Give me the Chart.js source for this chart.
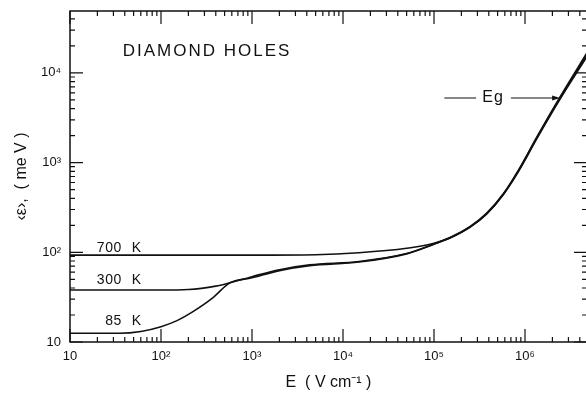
<!DOCTYPE html>
<html>
<head>
<meta charset="utf-8">
<script src="https://cdn.jsdelivr.net/npm/chart.js@4.4.1/dist/chart.umd.min.js"></script>
<style>
  html, body { margin: 0; padding: 0; background: #fff; overflow: hidden; }
  #wrap { width: 588px; height: 395px; }
</style>
</head>
<body>
<div id="wrap"><canvas id="chart"></canvas></div>
<script>
// field E (V/cm) and mean energy <eps> (meV)
const field700 = [10, 1e3, 5e3, 1.5e4, 5e4, 1e5, 1.5e5, 2.5e5, 3.8e5, 5.8e5, 8.5e5, 1.35e6, 2.4e6, 4.8e6];
const energy700 = [93, 93, 94, 99, 111, 126, 146, 194, 273, 452, 830, 1930, 5300, 16800];

const field300 = [10, 100, 200, 400, 560, 1000, 2000, 4300, 1.5e4, 5e4, 1e5, 1.5e5, 2.5e5, 3.8e5, 5.8e5, 8.5e5, 1.35e6, 2.4e6, 4.8e6];
const energy300 = [38, 38, 38.5, 42, 45.5, 53.5, 64, 72.5, 79, 97, 124, 145, 192, 270, 447, 815, 1890, 5150, 16000];

const field85 = [10, 35, 60, 100, 150, 220, 370, 560, 1000, 2000, 4300, 1.5e4, 5e4, 1e5, 1.5e5, 2.5e5, 3.8e5, 5.8e5, 8.5e5, 1.35e6, 2.4e6, 4.8e6];
const energy85 = [12.5, 12.5, 13.1, 14.8, 17.3, 21.5, 31, 45, 52, 62.5, 71, 78, 96, 123, 144, 191, 268, 442, 800, 1850, 5000, 15200];

const xTicks = [10, 1e2, 1e3, 1e4, 1e5, 1e6];
const yTicks = [10, 1e2, 1e3, 1e4];
const tempLabels = [['700', 112], ['300', 48.5], ['85', 17.1]];

const sup = { '1': '\u00b9', '2': '\u00b2', '3': '\u00b3', '4': '\u2074', '5': '\u2075', '6': '\u2076' };
function decadeLabel(v) {
  const k = Math.round(Math.log10(v));
  return k === 1 ? '10' : '10' + sup[k];
}

const pts = (xs, ys) => xs.map((x, i) => ({ x, y: ys[i] }));
const line = (data) => ({
  data, borderColor: '#111', borderWidth: 1.6, pointRadius: 0,
  showLine: true, fill: false, cubicInterpolationMode: 'monotone'
});

const INK = '#111';
const FONT = '"Liberation Sans", Arial, sans-serif';

const decor = {
  id: 'decor',
  afterDraw(chart) {
    const { ctx, chartArea: a, scales: { x, y } } = chart;
    ctx.save();
    ctx.strokeStyle = INK;
    ctx.lineWidth = 1.5;
    ctx.strokeRect(a.left, a.top, a.right - a.left, a.bottom - a.top);

    // inward ticks on all four sides
    ctx.lineWidth = 1.2;
    ctx.beginPath();
    for (let k = 1; k <= 6; k++) {
      for (let m = 1; m <= 9; m++) {
        const v = m * Math.pow(10, k);
        const len = m === 1 ? 13 : 5;
        if (v >= x.min && v <= x.max) {
          const px = x.getPixelForValue(v);
          ctx.moveTo(px, a.bottom); ctx.lineTo(px, a.bottom - len);
          ctx.moveTo(px, a.top); ctx.lineTo(px, a.top + len);
        }
        if (v >= y.min && v <= y.max) {
          const py = y.getPixelForValue(v);
          ctx.moveTo(a.left, py); ctx.lineTo(a.left + len, py);
          ctx.moveTo(a.right, py); ctx.lineTo(a.right - len, py);
        }
      }
    }
    ctx.stroke();

    ctx.fillStyle = INK;
    ctx.textBaseline = 'middle';

    // title inside the plot
    ctx.font = '17px ' + FONT;
    ctx.letterSpacing = '2px';
    ctx.textAlign = 'left';
    ctx.fillText('DIAMOND HOLES', x.getPixelForValue(38), y.getPixelForValue(17500));

    // temperature labels
    ctx.font = '14px ' + FONT;
    ctx.letterSpacing = '0.5px';
    const numRight = x.getPixelForValue(37);
    tempLabels.forEach(([t, e]) => {
      const py = y.getPixelForValue(e);
      ctx.textAlign = 'right';
      ctx.fillText(t, numRight, py);
      ctx.textAlign = 'left';
      ctx.fillText('K', numRight + 10, py);
    });

    // Eg marker
    const ey = y.getPixelForValue(5250);
    ctx.font = '16px ' + FONT;
    ctx.letterSpacing = '1px';
    ctx.textAlign = 'center';
    ctx.fillText('Eg', x.getPixelForValue(4.45e5), ey);
    ctx.lineWidth = 1;
    ctx.beginPath();
    ctx.moveTo(x.getPixelForValue(1.3e5), ey); ctx.lineTo(x.getPixelForValue(2.9e5), ey);
    const tip = x.getPixelForValue(2.43e6);
    ctx.moveTo(x.getPixelForValue(7e5), ey); ctx.lineTo(tip - 4, ey);
    ctx.stroke();
    ctx.beginPath();
    ctx.moveTo(tip, ey); ctx.lineTo(tip - 8, ey - 2.5); ctx.lineTo(tip - 8, ey + 2.5);
    ctx.closePath();
    ctx.fill();
    ctx.restore();
  }
};

new Chart(document.getElementById('chart'), {
  type: 'scatter',
  data: {
    datasets: [
      line(pts(field700, energy700)),
      line(pts(field300, energy300)),
      line(pts(field85, energy85))
    ]
  },
  options: {
    responsive: true,
    maintainAspectRatio: false,
    animation: false,
    layout: { padding: { top: 11, right: 1, left: 0, bottom: 0 } },
    plugins: { legend: { display: false }, tooltip: { enabled: false } },
    scales: {
      x: {
        type: 'logarithmic', min: 10, max: 4.8e6,
        grid: { display: false, drawTicks: false },
        border: { display: false },
        afterFit: (s) => { s.height = 53; s.paddingLeft = 0; s.paddingRight = 0; },
        afterBuildTicks: (s) => { s.ticks = xTicks.map(v => ({ value: v })); },
        ticks: { color: INK, padding: 7, maxRotation: 0, autoSkip: false,
                 font: { family: FONT, size: 13 }, callback: (v) => decadeLabel(v) },
        title: { display: true, text: 'E  ( V cm\u207b\u00b9 )', color: INK,
                 font: { family: FONT, size: 16 }, padding: { top: 4, bottom: 3 } }
      },
      y: {
        type: 'logarithmic', min: 10, max: 4.9e4,
        grid: { display: false, drawTicks: false },
        border: { display: false },
        afterFit: (s) => { s.width = 70; s.paddingTop = 0; s.paddingBottom = 0; },
        afterBuildTicks: (s) => { s.ticks = yTicks.map(v => ({ value: v })); },
        ticks: { color: INK, padding: 9, autoSkip: false,
                 font: { family: FONT, size: 13 }, callback: (v) => decadeLabel(v) },
        title: { display: true, text: '\u2039\u03b5\u203a,  ( me V )', color: INK,
                 font: { family: FONT, size: 16 }, padding: { top: 12, bottom: 0 } }
      }
    }
  },
  plugins: [decor]
});
</script>
</body>
</html>
